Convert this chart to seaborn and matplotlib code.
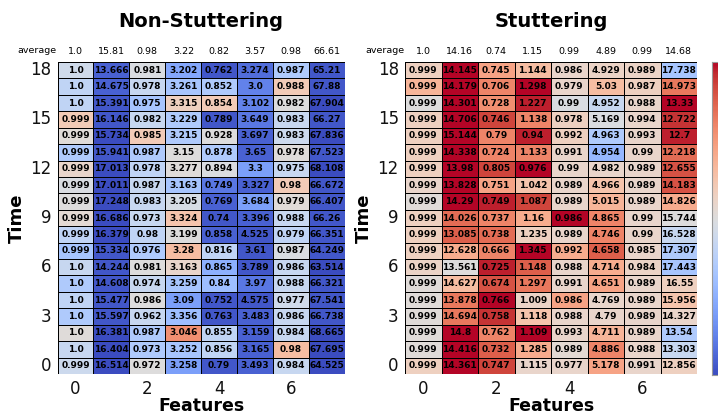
import numpy as np
import pandas as pd
import matplotlib
matplotlib.use("Agg")
import matplotlib.pyplot as plt
import matplotlib.transforms as mtransforms
import seaborn as sns

sns.set_style("white")
plt.rcParams['font.family'] = ['DejaVu Sans']
plt.rcParams['text.color'] = 'black'
plt.rcParams['axes.labelcolor'] = 'black'

features = list(range(8))

# ---- Non-Stuttering: displayed values (rows: time 18 -> 0) ----
ns_values = [
    [1.0, 13.666, 0.981, 3.202, 0.762, 3.274, 0.987, 65.21],
    [1.0, 14.675, 0.978, 3.261, 0.852, 3.0, 0.988, 67.88],
    [1.0, 15.391, 0.975, 3.315, 0.854, 3.102, 0.982, 67.904],
    [0.999, 16.146, 0.982, 3.229, 0.789, 3.649, 0.983, 66.27],
    [0.999, 15.734, 0.985, 3.215, 0.928, 3.697, 0.983, 67.836],
    [0.999, 15.941, 0.987, 3.15, 0.878, 3.65, 0.978, 67.523],
    [0.999, 17.013, 0.978, 3.277, 0.894, 3.3, 0.975, 68.108],
    [0.999, 17.011, 0.987, 3.163, 0.749, 3.327, 0.98, 66.672],
    [0.999, 17.248, 0.983, 3.205, 0.769, 3.684, 0.979, 66.407],
    [0.999, 16.686, 0.973, 3.324, 0.74, 3.396, 0.988, 66.26],
    [0.999, 16.379, 0.98, 3.199, 0.858, 4.525, 0.979, 66.351],
    [0.999, 15.334, 0.976, 3.28, 0.816, 3.61, 0.987, 64.249],
    [1.0, 14.244, 0.981, 3.163, 0.865, 3.789, 0.986, 63.514],
    [1.0, 14.608, 0.974, 3.259, 0.84, 3.97, 0.988, 66.321],
    [1.0, 15.477, 0.986, 3.09, 0.752, 4.575, 0.977, 67.541],
    [1.0, 15.597, 0.962, 3.356, 0.763, 3.483, 0.986, 66.738],
    [1.0, 16.381, 0.987, 3.046, 0.855, 3.159, 0.984, 68.665],
    [1.0, 16.404, 0.973, 3.252, 0.856, 3.165, 0.98, 67.695],
    [0.999, 16.514, 0.972, 3.258, 0.79, 3.493, 0.984, 64.525],
]
# colour intensity read from the cells (-1 blue .. +1 red)
ns_colors = [
    [-0.10, -0.90, -0.03, -0.55, -0.95, -0.85, -0.30, -0.95],
    [-0.20, -0.90, -0.15, -0.35, -0.30, -0.75, 0.20, -0.95],
    [-0.20, -0.95, -0.35, 0.15, 0.20, -0.75, 0.00, -1.00],
    [0.20, -0.95, -0.15, -0.30, -0.95, -0.80, -0.15, -0.95],
    [0.03, -1.00, 0.20, -0.30, 0.00, -0.90, -0.12, -1.00],
    [-0.30, -0.95, -0.30, 0.00, -0.30, -0.90, 0.02, -0.95],
    [0.10, -1.00, -0.20, 0.02, -0.02, -0.60, -0.15, -1.00],
    [-0.03, -1.00, -0.15, -0.35, -0.80, -0.90, 0.20, -0.95],
    [0.00, -1.00, -0.15, -0.05, -0.90, -0.60, 0.03, -0.95],
    [0.05, -1.00, -0.15, 0.25, -0.95, -0.90, -0.15, -0.95],
    [-0.20, -1.00, -0.20, 0.00, -0.90, -0.95, -0.20, -0.95],
    [-0.35, -0.95, -0.30, 0.30, -0.20, -0.95, -0.03, -0.95],
    [-0.15, -0.95, 0.00, 0.10, -0.50, -0.95, -0.15, -1.00],
    [-0.30, -0.95, -0.15, -0.35, -0.40, -0.80, -0.15, -0.95],
    [-0.20, -0.95, 0.00, -0.60, -0.95, -0.95, -0.10, -0.95],
    [-0.30, -0.95, -0.15, -0.40, -0.95, -0.90, -0.15, -0.95],
    [0.02, -1.00, -0.30, 0.55, -0.20, -0.90, -0.15, -1.00],
    [-0.15, -1.00, -0.30, -0.35, -0.20, -0.90, 0.30, -1.00],
    [-0.12, -1.00, 0.00, -0.60, -0.95, -0.90, -0.15, -1.00],
]
ns_average = [1.0, 15.81, 0.98, 3.22, 0.82, 3.57, 0.98, 66.61]

# ---- Stuttering ----
st_values = [
    [0.999, 14.145, 0.745, 1.144, 0.986, 4.929, 0.989, 17.738],
    [0.999, 14.179, 0.706, 1.298, 0.979, 5.03, 0.987, 14.973],
    [0.999, 14.301, 0.728, 1.227, 0.99, 4.952, 0.988, 13.33],
    [0.999, 14.706, 0.746, 1.138, 0.978, 5.169, 0.994, 12.722],
    [0.999, 15.144, 0.79, 0.94, 0.992, 4.963, 0.993, 12.7],
    [0.999, 14.338, 0.724, 1.133, 0.991, 4.954, 0.99, 12.218],
    [0.999, 13.98, 0.805, 0.976, 0.99, 4.982, 0.989, 12.655],
    [0.999, 13.828, 0.751, 1.042, 0.989, 4.966, 0.989, 14.183],
    [0.999, 14.29, 0.749, 1.087, 0.989, 5.015, 0.989, 14.826],
    [0.999, 14.026, 0.737, 1.16, 0.986, 4.865, 0.99, 15.744],
    [0.999, 13.085, 0.738, 1.235, 0.989, 4.746, 0.99, 16.528],
    [0.999, 12.628, 0.666, 1.345, 0.992, 4.658, 0.985, 17.307],
    [0.999, 13.561, 0.725, 1.148, 0.988, 4.714, 0.984, 17.443],
    [0.999, 14.627, 0.674, 1.297, 0.991, 4.651, 0.989, 16.55],
    [0.999, 13.878, 0.766, 1.009, 0.986, 4.769, 0.989, 15.956],
    [0.999, 14.694, 0.758, 1.118, 0.988, 4.79, 0.989, 14.327],
    [0.999, 14.8, 0.762, 1.109, 0.993, 4.711, 0.989, 13.54],
    [0.999, 14.416, 0.732, 1.285, 0.989, 4.886, 0.988, 13.303],
    [0.999, 14.361, 0.747, 1.115, 0.977, 5.178, 0.991, 12.856],
]
st_colors = [
    [0.15, 1.00, 0.45, 0.30, 0.10, 0.12, 0.12, -0.35],
    [0.35, 1.00, 0.60, 1.00, 0.10, 0.30, 0.15, 0.65],
    [0.00, 1.00, 0.55, 0.95, -0.03, -0.15, 0.10, 1.00],
    [0.15, 1.00, 0.85, 0.60, 0.15, -0.02, 0.10, 0.90],
    [0.15, 1.00, 0.60, 0.95, 0.15, -0.30, 0.10, 0.95],
    [0.15, 1.00, 0.60, 0.60, 0.10, -0.45, 0.10, 0.70],
    [0.15, 1.00, 0.85, 1.00, 0.10, 0.10, 0.10, 0.80],
    [0.10, 1.00, 0.45, 0.25, 0.10, 0.25, 0.10, 0.80],
    [0.03, 1.00, 0.95, 0.85, 0.10, 0.35, 0.10, 0.40],
    [0.15, 0.70, 0.60, 0.40, 1.00, 0.60, 0.10, 0.00],
    [0.15, 0.75, 0.70, 0.15, 0.10, 0.60, 0.10, -0.15],
    [0.15, 0.40, 0.60, 1.00, 0.40, 0.75, 0.10, -0.30],
    [0.12, 0.00, 0.95, 0.75, 0.10, 0.40, 0.12, -0.35],
    [0.03, 0.30, 0.80, 0.65, 0.10, 0.45, 0.10, 0.15],
    [0.03, 0.65, 1.00, 0.12, 0.45, 0.10, 0.10, 0.25],
    [0.03, 0.65, 0.90, 0.25, 0.10, 0.10, 0.10, 0.10],
    [0.03, 1.00, 0.60, 1.00, 0.10, 0.35, 0.10, -0.30],
    [0.03, 1.00, 0.75, 0.40, 0.05, 0.60, 0.10, -0.15],
    [0.15, 1.00, 0.85, 0.10, 0.10, 0.45, 0.10, 0.15],
]
st_average = [1.0, 14.16, 0.74, 1.15, 0.99, 4.89, 0.99, 14.68]

titles = ["Non-Stuttering", "Stuttering"]

W, H = 718, 415
fig = plt.figure(figsize=(W / 100, H / 100), dpi=100)

def fr(x0, y0, x1, y1):
    return [x0 / W, 1 - y1 / H, (x1 - x0) / W, (y1 - y0) / H]

ax1 = fig.add_axes(fr(57.5, 62, 345, 374))
ax2 = fig.add_axes(fr(405, 62, 697, 374))
cax = fig.add_axes(fr(712, 62, 735, 375))

def draw(ax, values, colors, average, title, cbar):
    vals = np.array(values)[::-1]      # time 0 .. 18
    cols = np.array(colors)[::-1]
    df = pd.DataFrame(cols, index=list(range(19)), columns=features)
    labels = np.array([[str(v) for v in row] for row in vals])
    sns.heatmap(df, ax=ax, cmap="coolwarm", vmin=-1, vmax=1,
                annot=labels, fmt="",
                annot_kws={"color": "black", "fontsize": 6.5, "fontweight": "bold"},
                linewidths=0.7, linecolor="black",
                cbar=cbar, cbar_ax=cax if cbar else None)
    ax.invert_yaxis()
    ax.set_yticks([t + 0.5 for t in range(0, 19, 3)])
    ax.set_yticklabels([str(t) for t in range(0, 19, 3)], rotation=0, fontsize=12, color="#111111")
    ax.set_xticks([f + 0.5 for f in range(0, 8, 2)])
    ax.set_xticklabels([str(f) for f in range(0, 8, 2)], rotation=0, fontsize=12, color="#111111")
    ax.tick_params(axis="both", length=3.5, width=0.8, color="#555555", pad=1)
    ax.set_xlabel("Features", fontsize=12.5, fontweight="bold", labelpad=-1)
    ax.set_ylabel("Time", fontsize=13, fontweight="bold", labelpad=3)
    ax.set_title(title, fontsize=14, fontweight="bold", pad=25, color="black")
    trans = mtransforms.blended_transform_factory(ax.transData, ax.transAxes)
    for j, a in enumerate(average):
        ax.text(j + 0.5, 1.033, str(a), transform=trans, ha="center", va="center", fontsize=6.8)
    ax.text(-0.02, 1.036, "average", transform=trans, ha="right", va="center", fontsize=6.8)

draw(ax1, ns_values, ns_colors, ns_average, titles[0], False)
draw(ax2, st_values, st_colors, st_average, titles[1], True)
cax.set_yticks([])
for s in cax.spines.values():
    s.set_visible(True)
    s.set_color("#999999")

fig.savefig("out.png", dpi=100)
